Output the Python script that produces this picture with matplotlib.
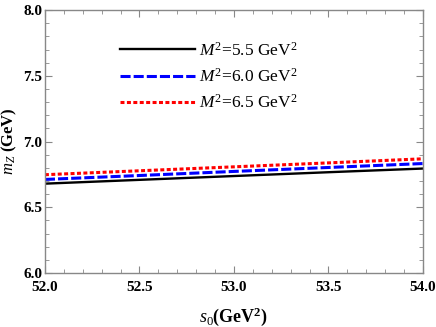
import matplotlib
matplotlib.use("Agg")
import matplotlib.pyplot as plt
from matplotlib.ticker import MultipleLocator, FormatStrFormatter

plt.rcParams['font.family'] = ['Liberation Serif', 'DejaVu Serif']
plt.rcParams['mathtext.fontset'] = 'custom'
plt.rcParams['mathtext.rm'] = 'Liberation Serif'
plt.rcParams['mathtext.it'] = 'Liberation Serif:italic'
plt.rcParams['mathtext.bf'] = 'Liberation Serif:bold'
plt.rcParams['mathtext.bfit'] = 'Liberation Serif:bold:italic'

s0 = [52.0, 52.5, 53.0, 53.5, 54.0]
m_55 = [6.680, 6.709, 6.738, 6.767, 6.795]
m_60 = [6.712, 6.742, 6.773, 6.803, 6.833]
m_65 = [6.748, 6.778, 6.808, 6.838, 6.869]
labels = [r"$M^2$=5.5 GeV$^2$", r"$M^2$=6.0 GeV$^2$", r"$M^2$=6.5 GeV$^2$"]

fig = plt.figure(figsize=(4.36, 3.27), dpi=100)
ax = fig.add_axes([0.103, 0.165, 0.867, 0.804])

ax.plot(s0, m_55, color='black', lw=1.7, ls='-', label=labels[0])
ax.plot(s0, m_60, color='#0000ff', lw=2.2, ls=(0, (3.3, 1.0)), label=labels[1])
ax.plot(s0, m_65, color='#ff0000', lw=2.2, ls=(0, (1.3, 0.8)), label=labels[2])

ax.set_xlim(52.0, 54.0)
ax.set_ylim(6.0, 8.0)
ax.xaxis.set_major_locator(MultipleLocator(0.5))
ax.xaxis.set_minor_locator(MultipleLocator(0.1))
ax.yaxis.set_major_locator(MultipleLocator(0.5))
ax.yaxis.set_minor_locator(MultipleLocator(0.1))
ax.xaxis.set_major_formatter(FormatStrFormatter('%.1f'))
ax.yaxis.set_major_formatter(FormatStrFormatter('%.1f'))
ax.tick_params(which='both', direction='in', top=True, right=True, color='#888888')
ax.tick_params(axis='x', which='major', pad=6)
ax.tick_params(axis='y', which='major', pad=2)
ax.tick_params(which='major', length=5, width=0.8, labelsize=11)
ax.tick_params(which='minor', length=3, width=0.6)
for lab in ax.get_xticklabels() + ax.get_yticklabels():
    lab.set_fontweight('bold')
for sp in ax.spines.values():
    sp.set_color('#888888')
    sp.set_linewidth(1.0)

ax.set_xlabel(r"$\boldsymbol{s_0}$(GeV$^\mathbf{2}$)", fontsize=13, fontweight='bold')
ax.set_ylabel(r"$\boldsymbol{m_Z}$ (GeV)", fontsize=12, fontweight='bold')
ax.xaxis.set_label_coords(0.5, -0.125)
ax.yaxis.set_label_coords(-0.068, 0.5)

leg = ax.legend(loc='upper left', bbox_to_anchor=(0.158, 0.94), frameon=False,
                fontsize=12.5, handlelength=4.3, handletextpad=0.25, labelspacing=0.48)

fig.savefig("out.png", dpi=100)
